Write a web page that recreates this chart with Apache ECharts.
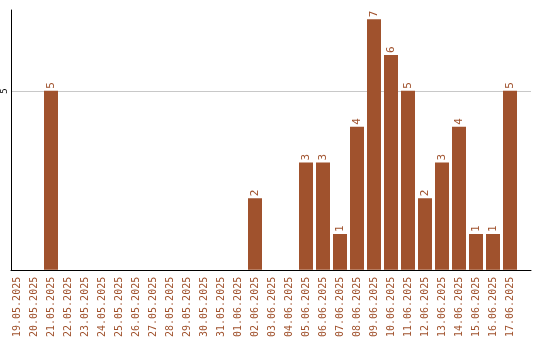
<!DOCTYPE html>
<html><head><meta charset="utf-8">
<script src="https://cdn.jsdelivr.net/npm/echarts@6/dist/echarts.min.js"></script>
<style>html,body{margin:0;padding:0;background:#fff}#c{width:540px;height:340px}</style>
</head><body><div id="c"></div>
<script>
const categories = ['19.05.2025','20.05.2025','21.05.2025','22.05.2025','23.05.2025','24.05.2025','25.05.2025','26.05.2025','27.05.2025','28.05.2025','29.05.2025','30.05.2025','31.05.2025','01.06.2025','02.06.2025','03.06.2025','04.06.2025','05.06.2025','06.06.2025','07.06.2025','08.06.2025','09.06.2025','10.06.2025','11.06.2025','12.06.2025','13.06.2025','14.06.2025','15.06.2025','16.06.2025','17.06.2025'];
const values = [0,0,5,0,0,0,0,0,0,0,0,0,0,0,2,0,0,3,3,1,4,7,6,5,2,3,4,1,1,5];
const yTicks = [5];

const FONT = 'DejaVu Sans Mono';
const BROWN = '#a0522d';
const YMAX = 7.26;
const chart = echarts.init(document.getElementById('c'));
chart.setOption({
  animation: false,
  grid: [
    {left: 10, right: 9, top: 10, bottom: 70},
    {left: 8.5, width: 510, top: 10, bottom: 70}
  ],
  xAxis: [
    {gridIndex: 0, type: 'value', min: 0, max: 1, axisLine: {show: true, lineStyle: {color: '#000', width: 1}},
     axisTick: {show: false}, axisLabel: {show: false}, splitLine: {show: false}},
    {gridIndex: 1, type: 'category', data: categories, axisLine: {show: false}, axisTick: {show: false},
     axisLabel: {interval: 0, rotate: 90, color: BROWN, fontFamily: FONT, fontSize: 10, margin: 7}}
  ],
  yAxis: [
    {gridIndex: 0, type: 'value', min: 0, max: YMAX, interval: 5,
     axisLine: {show: true, lineStyle: {color: '#000', width: 1}}, axisTick: {show: false},
     axisLabel: {rotate: 90, color: '#000', fontFamily: FONT, fontSize: 9, margin: 2,
       formatter: v => yTicks.includes(v) ? String(v) : ''},
     splitLine: {show: true, lineStyle: {color: ['transparent', '#c8c8c8', 'transparent'], width: 1}}},
    {gridIndex: 1, type: 'value', min: 0, max: YMAX, interval: 5, show: false}
  ],
  series: [{
    type: 'bar', xAxisIndex: 1, yAxisIndex: 1, data: values, barWidth: 14,
    itemStyle: {color: BROWN},
    label: {show: true, position: 'top', rotate: 90, align: 'left', verticalAlign: 'middle', distance: 2,
      color: BROWN, fontFamily: FONT, fontSize: 11, formatter: p => p.value ? String(p.value) : ''}
  }]
});
</script></body></html>
